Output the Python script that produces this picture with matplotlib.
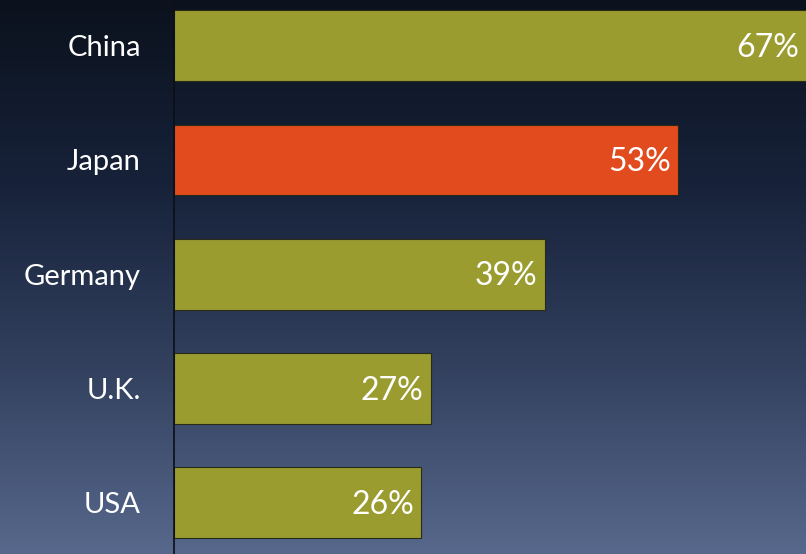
import matplotlib
matplotlib.use("Agg")
import matplotlib.pyplot as plt
import numpy as np
from matplotlib.colors import LinearSegmentedColormap

countries = ["China", "Japan", "Germany", "U.K.", "USA"]
values = [67, 53, 39, 27, 26]
labels = ["67%", "53%", "39%", "27%", "26%"]
highlight = "Japan"

olive = "#9a9c30"
red = "#e14b1d"

W, H = 806, 554
fig = plt.figure(figsize=(W / 100, H / 100), dpi=100)

# background gradient
bg = fig.add_axes([0, 0, 1, 1], zorder=0)
grad = np.linspace(0, 1, 256).reshape(-1, 1)
cmap = LinearSegmentedColormap.from_list("bg", ["#0b121d", "#17223a", "#33415f", "#57688c"])
bg.imshow(grad, aspect="auto", cmap=cmap, extent=[0, 1, 0, 1], origin="upper")
bg.axis("off")

left = 174 / W
ax = fig.add_axes([left, 0, 1 - left, 1], zorder=1)
ax.patch.set_alpha(0)
y = np.arange(len(countries))
colors = [red if c == highlight else olive for c in countries]
ax.barh(y, values, height=0.62, color=colors, edgecolor="#2a2a18", linewidth=0.8)
ax.set_xlim(0, 66.5)
ax.set_ylim(4.45, -0.4)

for yi, v, lab in zip(y, values, labels):
    xv = min(v, 66.5)
    ax.text(xv - 0.75, yi + 0.02, lab, color="white", fontsize=23, ha="right",
            va="center", family="Lato")

ax.set_yticks(y)
ax.set_yticklabels(countries, color="white", fontsize=21, family="Lato")
ax.tick_params(axis="y", length=0, pad=24)
ax.set_xticks([])
for s in ["top", "right", "bottom"]:
    ax.spines[s].set_visible(False)
ax.spines["left"].set_color("#0a0f18")
ax.spines["left"].set_linewidth(1.2)

fig.savefig("out.png", dpi=100)
